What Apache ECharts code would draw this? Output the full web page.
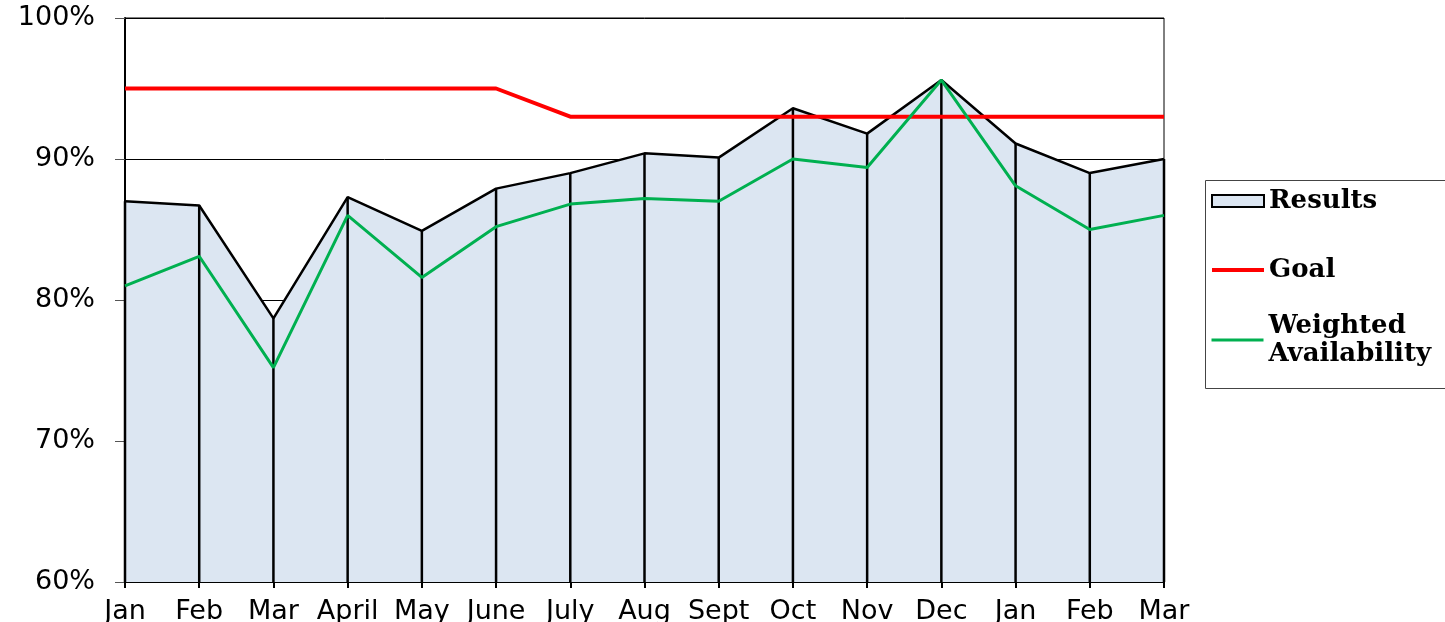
<!DOCTYPE html>
<html>
<head>
<meta charset="utf-8">
<script src="https://cdn.jsdelivr.net/npm/echarts@6/dist/echarts.min.js"></script>
<style>
  html, body { margin: 0; padding: 0; background: #fff; }
  #main { width: 1445px; height: 622px; }
</style>
</head>
<body>
<div id="main"></div>
<script>
var months = ['Jan', 'Feb', 'Mar', 'April', 'May', 'June', 'July', 'Aug', 'Sept', 'Oct', 'Nov', 'Dec', 'Jan', 'Feb', 'Mar']
var results = [87.0, 86.7, 78.7, 87.3, 84.9, 87.9, 89.0, 90.4, 90.1, 93.6, 91.8, 95.6, 91.1, 89.0, 90.0]
var goal = [95, 95, 95, 95, 95, 95, 93, 93, 93, 93, 93, 93, 93, 93, 93]
var weighted = [81.0, 83.1, 75.2, 86.0, 81.6, 85.2, 86.8, 87.2, 87.0, 90.0, 89.4, 95.6, 88.1, 85.0, 86.0]
var yTicks = { min: 60, max: 100, step: 10 }

var chart = echarts.init(document.getElementById('main'))

var axisFont = { fontFamily: 'DejaVu Sans', fontSize: 27, color: '#000' }
var legendFont = { fontFamily: 'DejaVu Serif', fontWeight: 'bold', fontSize: 26, color: '#000', lineHeight: 28 }

var option = {
  animation: false,
  grid: {
    left: 125,
    right: 281,
    top: 18,
    bottom: 40,
    outerBoundsMode: 'none',
    containLabel: false,
    show: true,
    borderColor: '#000',
    borderWidth: 1,
  },
  legend: [
    {
      left: 1210,
      top: 187,
      orient: 'vertical',
      padding: 0,
      itemGap: 41,
      itemWidth: 52,
      itemHeight: 12,
      textStyle: legendFont,
      data: [
        { name: 'Results', icon: 'rect', itemStyle: { color: '#dce6f2', borderColor: '#000', borderWidth: 2 } },
        { name: 'Goal', itemStyle: { opacity: 0 }, lineStyle: { width: 4 } },
      ],
    },
    {
      left: 1210,
      top: 298,
      orient: 'vertical',
      padding: 0,
      itemWidth: 52,
      itemHeight: 12,
      textStyle: Object.assign({ padding: [28, 0, 0, 0] }, legendFont),
      formatter: function(name) {
        return name.replace(' ', '\n')
      },
      data: [{ name: 'Weighted Availability', itemStyle: { opacity: 0 }, lineStyle: { width: 3 } }],
    },
  ],
  graphic: [
    {
      type: 'rect',
      shape: { x: 1205.5, y: 180.5, width: 250, height: 208 },
      style: { fill: 'none', stroke: '#444', lineWidth: 1 },
    },
  ],
  xAxis: {
    type: 'category',
    data: months,
    boundaryGap: false,
    axisLine: { lineStyle: { color: '#000', width: 2 } },
    axisTick: { length: 6, lineStyle: { color: '#000', width: 2 } },
    axisLabel: Object.assign({ margin: 16, interval: 0 }, axisFont),
    splitLine: { show: false },
  },
  yAxis: {
    type: 'value',
    min: yTicks.min,
    max: yTicks.max,
    interval: yTicks.step,
    axisLine: { show: true, lineStyle: { color: '#000', width: 2 } },
    axisTick: { show: true, length: 10, lineStyle: { color: '#555', width: 1 } },
    axisLabel: Object.assign({ margin: 30, formatter: '{value}%' }, axisFont),
    splitLine: { lineStyle: { color: '#000', width: 1 } },
  },
  series: [
    {
      name: 'Results',
      type: 'line',
      data: results,
      symbol: 'none',
      itemStyle: { color: '#dce6f2' },
      lineStyle: { color: '#000', width: 2.5 },
      areaStyle: { color: '#dce6f2', opacity: 1, origin: 'start' },
      z: 1,
    },
    {
      // drop lines from each result down to the axis
      type: 'custom',
      data: results.map(function(v, i) { return [i, v] }),
      encode: { x: 0, y: 1 },
      clip: false,
      renderItem: function(params, api) {
        var top = api.coord([api.value(0), api.value(1)])
        var bot = api.coord([api.value(0), yTicks.min])
        return {
          type: 'line',
          shape: { x1: top[0], y1: top[1], x2: bot[0], y2: bot[1] },
          style: { stroke: '#000', lineWidth: 2.5 },
        }
      },
      z: 2,
    },
    {
      name: 'Goal',
      type: 'line',
      data: goal,
      symbol: 'none',
      itemStyle: { color: '#ff0000' },
      lineStyle: { color: '#ff0000', width: 4 },
      z: 3,
    },
    {
      name: 'Weighted Availability',
      type: 'line',
      data: weighted,
      symbol: 'none',
      itemStyle: { color: '#00b050' },
      lineStyle: { color: '#00b050', width: 3 },
      z: 4,
    },
  ],
}

chart.setOption(option)
</script>
</body>
</html>
